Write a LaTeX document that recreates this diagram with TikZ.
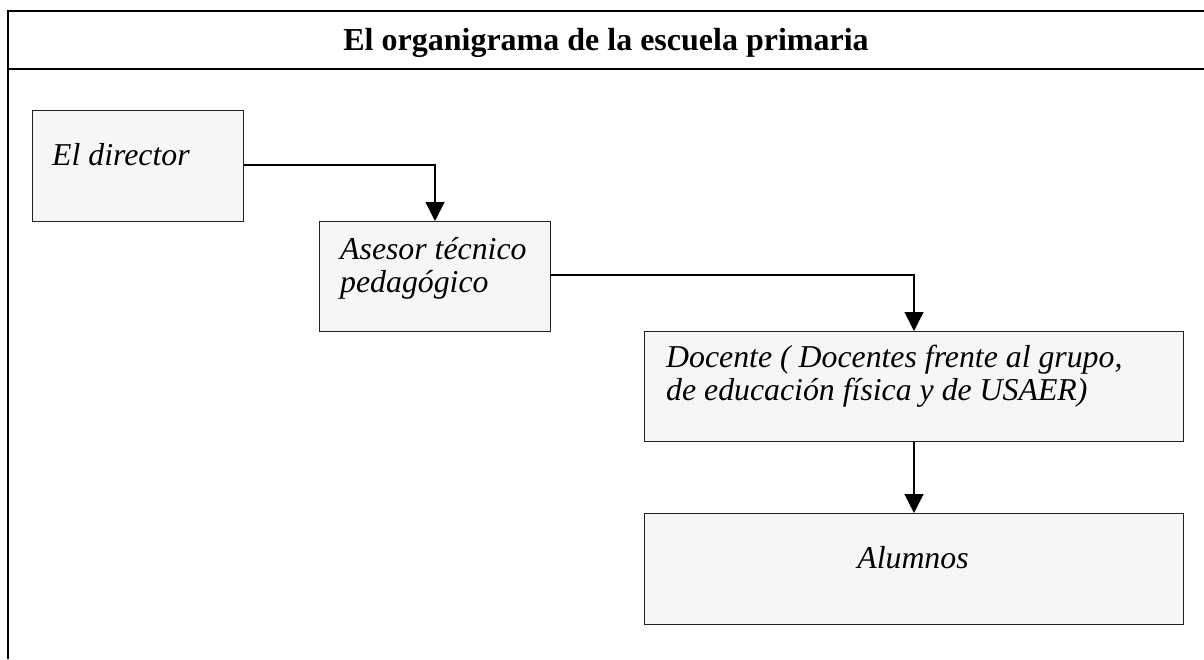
\documentclass[tikz,border=0pt]{standalone}
\usepackage{fontspec}
\setmainfont{Liberation Serif}
\usetikzlibrary{arrows.meta}
\definecolor{boxfill}{HTML}{F6F6F6}
\definecolor{boxline}{HTML}{222222}
\tikzset{
  orgbox/.style={draw=boxline, line width=1.1pt, fill=boxfill, rectangle, anchor=north west, inner sep=0pt},
  orgtxt/.style={font=\fontsize{31.8}{32.5}\selectfont\itshape, inner sep=0pt, align=left},
  conn/.style={line width=1.2pt, -{Triangle[width=19pt,length=19pt]}},
  frameline/.style={line width=1.6pt, black}
}
\begin{document}
\begin{tikzpicture}[x=1pt,y=-1pt]
\useasboundingbox (0,0) rectangle (1204,659);
% frame
\draw[frameline] (1204,11) -- (8,11) -- (8,659);
\draw[frameline] (8,69) -- (1204,69);
\node[font=\fontsize{32}{33}\selectfont\bfseries, inner sep=0pt, anchor=base] (title) at (606,50) {El organigrama de la escuela primaria};
% boxes
\node[orgbox, minimum width=211pt, minimum height=111pt] (dir) at (32,110) {};
\node[orgtxt, anchor=base west] (dirt) at (52,165) {El director};
\node[orgbox, minimum width=231pt, minimum height=110pt] (ase) at (319,221) {};
\node[orgtxt, anchor=base west] (aset) at (340,292) {Asesor técnico\\pedagógico};
\node[orgbox, minimum width=539pt, minimum height=110pt] (doc) at (644,331) {};
\node[orgtxt, anchor=base west] (doct) at (666,400) {Docente ( Docentes frente al grupo,\\de educación física y de USAER)};
\node[orgbox, minimum width=539pt, minimum height=111pt] (alu) at (644,513) {};
\node[orgtxt, anchor=base] (alut) at (913,568) {Alumnos};
% connectors
\coordinate (c1) at (435,165);
\coordinate (c2) at (914,275);
\draw[conn] (dir.east |- c1) -| (ase.north -| c1);
\draw[conn] (ase.east |- c2) -| (doc.north -| c2);
\draw[conn] (doc.south -| c2) -- (alu.north -| c2);
\end{tikzpicture}
\end{document}
